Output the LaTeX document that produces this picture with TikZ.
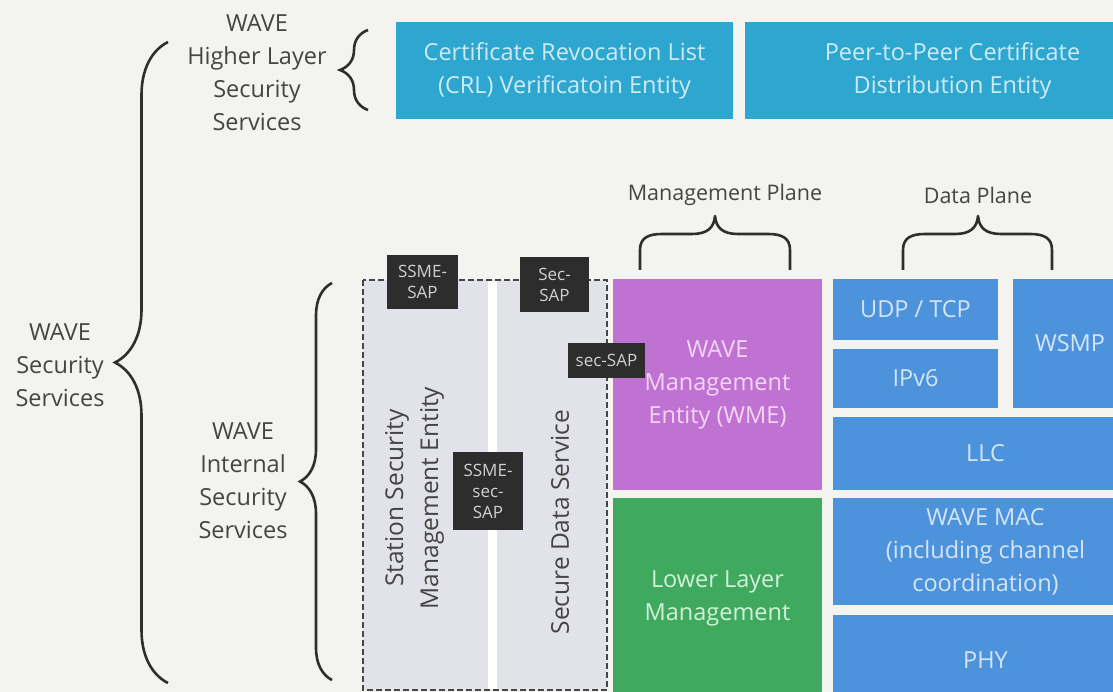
\documentclass[tikz,border=0pt]{standalone}
\usepackage{fontspec}
\setmainfont{Open Sans}
\usetikzlibrary{decorations.pathreplacing}

\definecolor{bgcol}{HTML}{F3F3F0}
\definecolor{cyanbox}{HTML}{2DA6D0}
\definecolor{cyantext}{HTML}{CDEBF5}
\definecolor{wmefill}{HTML}{C072D2}
\definecolor{wmetext}{HTML}{F3D6F3}
\definecolor{llmfill}{HTML}{3FA95E}
\definecolor{llmtext}{HTML}{D2F2D9}
\definecolor{stackfill}{HTML}{4C93DC}
\definecolor{stacktext}{HTML}{D5E5F8}
\definecolor{sapfill}{HTML}{2D2D2D}
\definecolor{saptext}{HTML}{D0D0D0}
\definecolor{lavfill}{HTML}{E2E2EA}
\definecolor{labeltext}{HTML}{454545}
\definecolor{bracecol}{HTML}{2E2E2E}

\begin{document}
\begin{tikzpicture}[x=1pt,y=-1pt,
  blk/.style={anchor=north west, inner sep=0pt, outer sep=0pt, align=center,
    font=\fontsize{23.5}{33}\selectfont},
  sap/.style={anchor=north west, inner sep=0pt, outer sep=0pt, align=center,
    fill=sapfill, text=saptext, font=\fontsize{17}{21}\selectfont},
  lbl/.style={inner sep=0pt, align=center, text=labeltext,
    font=\fontsize{23.5}{33}\selectfont},
  plane/.style={inner sep=0pt, text=labeltext, font=\fontsize{21.5}{26}\selectfont},
  brc/.style={decorate, decoration={brace, amplitude=#1}, draw=bracecol,
    line width=2.6pt},
  planebrace/.style={draw=bracecol, line width=2.6pt, line join=round}
]
\useasboundingbox (0,0) rectangle (1113,692);
\clip (0,0) rectangle (1113,692);
\fill[bgcol] (0,0) rectangle (1113,692);

% higher layer entities
\node[blk, fill=cyanbox, text=cyantext, minimum width=337pt, minimum height=97pt]
  (crl) at (396,22) {Certificate Revocation List\\(CRL) Verificatoin Entity};
\node[blk, fill=cyanbox, text=cyantext, minimum width=415pt, minimum height=97pt]
  (p2p) at (745,22) {Peer-to-Peer Certificate\\Distribution Entity};

% security services area
\node[anchor=north west, inner sep=0pt, outer sep=0pt, fill=lavfill,
  minimum width=244pt, minimum height=410pt] (secarea) at (363,280) {};
\fill[white] (488,281) rectangle (497,689);
\draw[labeltext, line width=1.4pt, dash pattern=on 6pt off 3pt]
  (secarea.north west) rectangle (secarea.south east);

\node[lbl, rotate=90, font=\fontsize{24.5}{35}\selectfont] (ssme) at (414.5,498)
  {Station Security\\Management Entity};
\node[lbl, rotate=90, font=\fontsize{24.5}{35}\selectfont] (sds) at (560,522)
  {Secure Data Service};

% management plane
\node[blk, fill=wmefill, text=wmetext, minimum width=209pt, minimum height=211pt]
  (wme) at (613,279) {WAVE\\Management\\Entity (WME)};
\node[blk, fill=llmfill, text=llmtext, minimum width=209pt, minimum height=200pt]
  (llm) at (613,498) {Lower Layer\\Management};

% data plane
\node[blk, fill=stackfill, text=stacktext, minimum width=165pt, minimum height=61pt]
  (udp) at (833,279) {UDP / TCP};
\node[blk, fill=stackfill, text=stacktext, minimum width=165pt, minimum height=59pt]
  (ipv6) at (833,349) {IPv6};
\node[blk, fill=stackfill, text=stacktext, minimum width=114pt, minimum height=129pt]
  (wsmp) at (1013,279) {WSMP};
\node[blk, fill=stackfill, text=stacktext, minimum width=305pt, minimum height=73pt]
  (llc) at (833,417) {LLC};
\node[blk, fill=stackfill, text=stacktext, minimum width=305pt, minimum height=107pt]
  (mac) at (833,498) {WAVE MAC\\(including channel\\coordination)};
\node[blk, fill=stackfill, text=stacktext, minimum width=305pt, minimum height=90pt]
  (phy) at (833,615) {PHY};

% service access points
\node[sap, minimum width=71pt, minimum height=54pt] (ssmesap) at (387,255) {SSME-\\SAP};
\node[sap, minimum width=69pt, minimum height=55pt] (secsap) at (520,257) {Sec-\\SAP};
\node[sap, minimum width=77pt, minimum height=35pt] (wmesap) at (568,343) {sec-SAP};
\node[sap, minimum width=70pt, minimum height=78pt] (ssmesecsap) at (453,452) {SSME-\\sec-\\SAP};

% labels
\node[lbl] (hls) at (257,73) {WAVE\\Higher Layer\\Security\\Services};
\node[lbl] (wss) at (60,365) {WAVE\\Security\\Services};
\node[lbl] (wis) at (243,481) {WAVE\\Internal\\Security\\Services};
\node[plane] (mplane) at (725,195) {Management Plane};
\node[plane] (dplane) at (978,195) {Data Plane};

% braces beside the service groups
\coordinate (hlsb) at (368,110);
\coordinate (hlst) at (368,30);
\draw[brc=28pt] (hlsb) -- (hlst);
\coordinate (wssb) at (168,683);
\coordinate (wsst) at (168,42);
\draw[brc=53pt] (wssb) -- (wsst);
\coordinate (wisb) at (332,680);
\coordinate (wist) at (332,283);
\draw[brc=32pt] (wisb) -- (wist);

% braces under the plane titles
\draw[planebrace] (640,270) -- (640,250)
  .. controls (640,238) and (648,234) .. (662,234) -- (692,234)
  .. controls (707,234) and (714,228) .. (715,216)
  .. controls (716,228) and (723,234) .. (738,234) -- (768,234)
  .. controls (782,234) and (790,238) .. (790,250) -- (790,270);
\draw[planebrace] (903,270) -- (903,250)
  .. controls (903,238) and (911,234) .. (925,234) -- (955,234)
  .. controls (970,234) and (977,228) .. (978,216)
  .. controls (979,228) and (986,234) .. (1001,234) -- (1030,234)
  .. controls (1044,234) and (1052,238) .. (1052,250) -- (1052,270);
\end{tikzpicture}
\end{document}
